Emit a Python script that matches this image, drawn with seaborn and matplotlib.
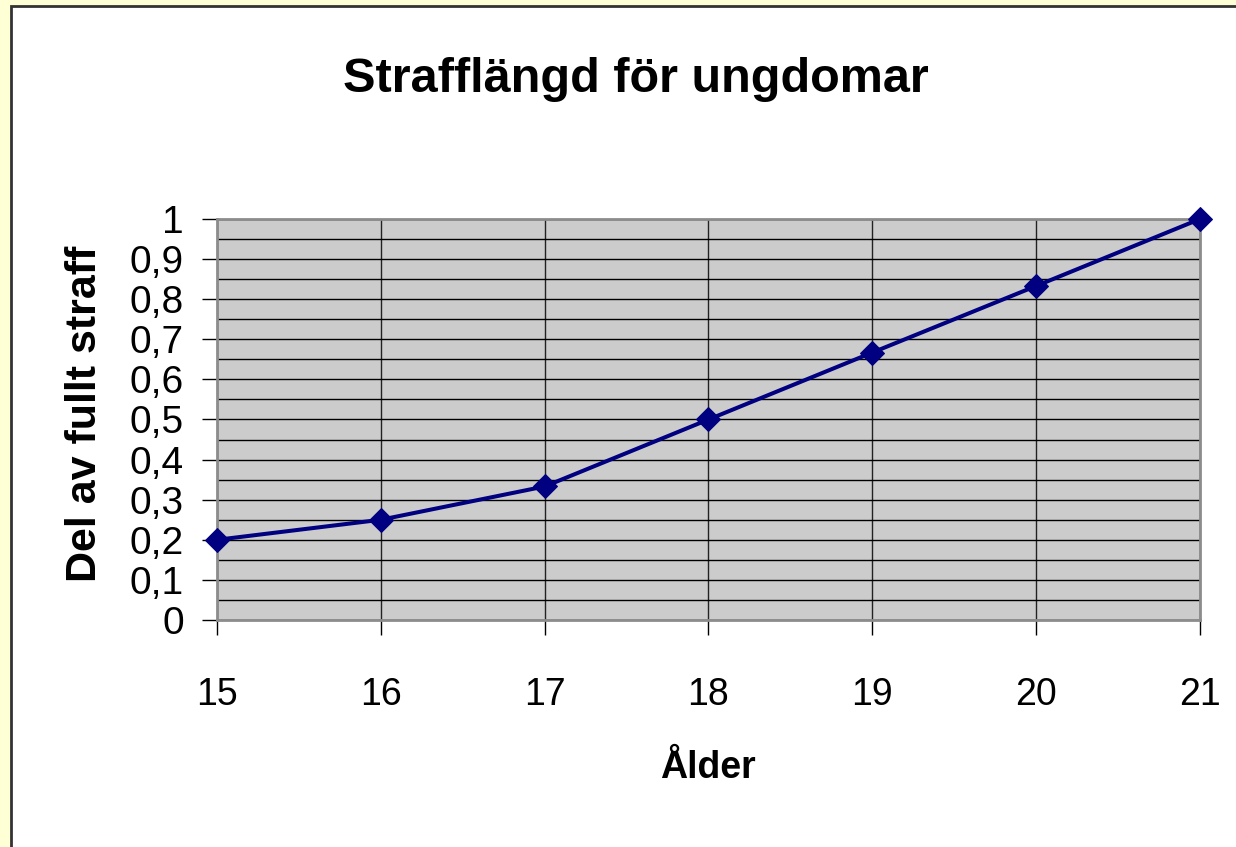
import numpy as np
import pandas as pd
import matplotlib
matplotlib.use('Agg')
import matplotlib.pyplot as plt
import seaborn as sns
from matplotlib.patches import Rectangle
from matplotlib.ticker import MultipleLocator

# data
alder = [15, 16, 17, 18, 19, 20, 21]
andel = [0.2, 0.25, 0.333, 0.5, 0.667, 0.833, 1.0]
y_ticks = [0, 0.1, 0.2, 0.3, 0.4, 0.5, 0.6, 0.7, 0.8, 0.9, 1.0]
y_tick_labels = ['0', '0,1', '0,2', '0,3', '0,4', '0,5', '0,6', '0,7', '0,8', '0,9', '1']

title = 'Strafflängd för ungdomar'
x_label = 'Ålder'
y_label = 'Del av fullt straff'

df = pd.DataFrame({'Ålder': alder, 'Andel': andel})

sns.set_style('white')
plt.rcParams['font.family'] = ['Liberation Sans', 'DejaVu Sans']
plt.rcParams['text.color'] = 'black'
plt.rcParams['xtick.color'] = 'black'
plt.rcParams['ytick.color'] = 'black'

W, H = 1236, 847
fig = plt.figure(figsize=(W / 100, H / 100), dpi=100)
fig.patch.set_facecolor('#FFFFD5')

# white chart area with dark frame (top/left visible)
frame = Rectangle((11 / W, -0.05), 1.1, 1.05 - 6 / H, transform=fig.transFigure,
                  facecolor='white', edgecolor='#333333', linewidth=2, zorder=-10)
fig.patches.append(frame)

ax = fig.add_axes([217 / W, (H - 620) / H, (1200 - 217) / W, (620 - 219) / H])
ax.set_facecolor('#CCCCCC')
ax.set_zorder(1)

sns.lineplot(data=df, x='Ålder', y='Andel', ax=ax, color='#000080', linewidth=2.9,
             marker='D', markersize=12.5, markeredgecolor='#000080', clip_on=False, zorder=5)

ax.set_xlim(alder[0], alder[-1])
ax.set_ylim(0, 1)
ax.set_xticks(alder)
ax.set_xticklabels([str(a) for a in alder])
ax.set_yticks(y_ticks)
ax.set_yticklabels(y_tick_labels)
ax.yaxis.set_minor_locator(MultipleLocator(0.05))

ax.grid(True, which='both', axis='y', color='black', linewidth=1)
ax.grid(True, which='major', axis='x', color='#222222', linewidth=1)
ax.set_axisbelow(True)

for side in ['left', 'right', 'top', 'bottom']:
    ax.spines[side].set_visible(True)
    ax.spines[side].set_color('#8C8C8C')
    ax.spines[side].set_linewidth(2)

ax.tick_params(axis='y', which='major', direction='out', length=11, width=1, color='black',
               left=True, labelsize=28, pad=13, labelcolor='black')
ax.tick_params(axis='y', which='minor', left=False)
ax.tick_params(axis='x', which='major', direction='out', length=11, width=1, color='black',
               bottom=True, labelsize=27, pad=30, labelcolor='black')
for lbl in ax.get_yticklabels():
    lbl.set_va('center_baseline')

ax.set_xlabel('')
ax.set_ylabel('')

fig.text(636 / W, 1 - 80 / H, title, ha='center', va='center', fontsize=35, fontweight='bold')
fig.text(708 / W, 1 - 768 / H, x_label, ha='center', va='center', fontsize=27, fontweight='bold')
fig.text(85 / W, 1 - 414 / H, y_label, ha='center', va='center', fontsize=31, fontweight='bold',
         rotation=90)

fig.savefig('out.png', dpi=100, facecolor=fig.get_facecolor())
